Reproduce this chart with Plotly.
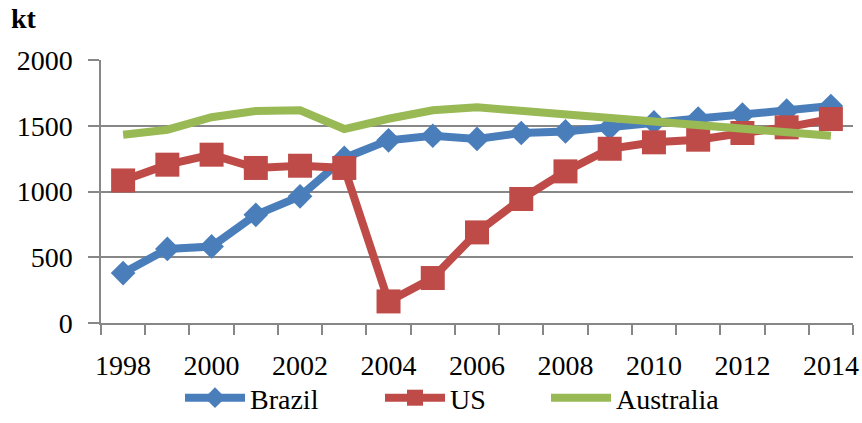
import plotly.graph_objects as go

years = list(range(1998, 2015))
brazil = [380, 563, 582, 823, 963, 1255, 1389, 1424, 1400, 1445, 1457, 1485, 1525, 1555, 1585, 1615, 1650]
us = [1084, 1204, 1280, 1179, 1196, 1179, 164, 342, 689, 943, 1153, 1325, 1374, 1394, 1445, 1488, 1551]
australia = [1432, 1470, 1565, 1612, 1617, 1475, 1553, 1618, 1640, 1614, 1584, 1553, 1530, 1508, 1478, 1450, 1424]
ytick_vals = [0, 500, 1000, 1500, 2000]

FONT = "Liberation Serif"
BLUE = "#4A7EBB"
RED = "#BE4B48"
GREEN = "#98B954"
GRID = "#878787"

fig = go.Figure()
fig.add_trace(go.Scatter(x=years, y=brazil, name="Brazil", mode="lines+markers",
                         line=dict(color=BLUE, width=8), legend="legend",
                         marker=dict(symbol="diamond", size=19, color=BLUE)))
fig.add_trace(go.Scatter(x=years, y=us, name="US", mode="lines+markers",
                         line=dict(color=RED, width=8), legend="legend2",
                         marker=dict(symbol="square", size=24, color=RED)))
fig.add_trace(go.Scatter(x=years, y=australia, name="Australia", mode="lines",
                         line=dict(color=GREEN, width=8), legend="legend3"))

def leg(xpx):
    return dict(orientation="h", xref="container", x=xpx / 862, xanchor="left",
                yref="container", y=0.0, yanchor="bottom",
                font=dict(family=FONT, size=28), itemwidth=60,
                bgcolor="rgba(0,0,0,0)")

fig.update_layout(
    width=862, height=423,
    margin=dict(l=101, r=9, t=60, b=100),
    paper_bgcolor="white", plot_bgcolor="white",
    font=dict(family=FONT, size=28, color="black"),
    showlegend=True,
    legend=leg(180), legend2=leg(380), legend3=leg(546),
    title=dict(text="<b>kt</b>", xref="container", yref="container",
               x=11 / 862, xanchor="left", y=1 - 18 / 423, yanchor="middle",
               font=dict(family=FONT, size=28)),
)
fig.update_xaxes(
    range=[1997.5, 2014.5], tickvals=years[::2], ticktext=[str(y) for y in years[::2]],
    ticks="outside", ticklen=17, tickcolor="rgba(0,0,0,0)", automargin=False,
    showline=True, linecolor=GRID, linewidth=1.5, showgrid=False, zeroline=False,
    minor=dict(tickvals=[y - 0.5 for y in years] + [years[-1] + 0.5], ticks="outside",
               ticklen=10, tickcolor=GRID, tickwidth=1.5, showgrid=False),
)
fig.update_yaxes(
    range=[0, 2000], tickvals=ytick_vals, ticks="outside", ticklen=11, tickcolor=GRID,
    tickwidth=1.5, showline=True, linecolor=GRID, linewidth=1.5, automargin=False,
    ticklabelstandoff=10,
    showgrid=True, gridcolor=GRID, gridwidth=1.5, zeroline=False,
)
fig.write_html("out.html", config={"displayModeBar": False},
               post_script="document.body.style.margin='0';")
